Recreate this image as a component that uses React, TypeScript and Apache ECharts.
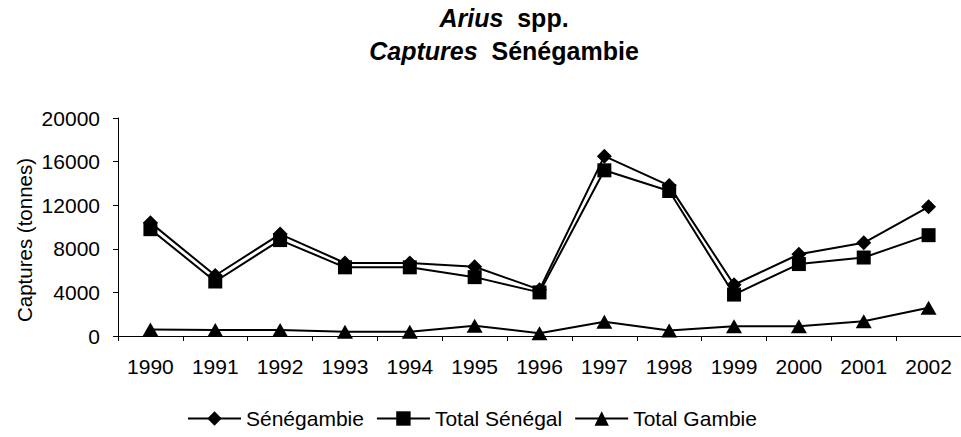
import React, { useEffect, useRef } from "react";
import * as echarts from "echarts";

const years = ["1990", "1991", "1992", "1993", "1994", "1995", "1996", "1997", "1998", "1999", "2000", "2001", "2002"];
const senegambie = [10400, 5550, 9350, 6700, 6700, 6350, 4250, 16500, 13800, 4700, 7500, 8550, 11850];
const totalSenegal = [9800, 5000, 8800, 6300, 6300, 5400, 4000, 15200, 13300, 3800, 6600, 7200, 9250];
const totalGambie = [600, 550, 550, 400, 400, 950, 250, 1300, 500, 900, 900, 1350, 2600];
const seriesNames = ["Sénégambie", "Total Sénégal", "Total Gambie"];
const yMin = 0;
const yMax = 20000;
const yStep = 4000;

export default function App() {
  const ref = useRef<HTMLDivElement>(null);
  useEffect(() => {
    const chart = echarts.init(ref.current as HTMLDivElement, null, { renderer: "svg" });
    const font = '"Liberation Sans", Arial, sans-serif';
    const black = "#000";
    const mk = (name: string, data: number[], symbol: string, size: any) => ({
      name,
      type: "line",
      data,
      symbol,
      symbolSize: size,
      color: black,
      lineStyle: { color: black, width: 2 },
      itemStyle: { color: black },
    });
    const rich = {
      bi: { fontSize: 25, fontWeight: "bold", fontStyle: "italic", fontFamily: font, fill: black },
      b: { fontSize: 25, fontWeight: "bold", fontFamily: font, fill: black },
    };
    chart.setOption({
      animation: false,
      backgroundColor: "#fff",
      textStyle: { fontFamily: font, color: black },
      grid: { left: 118, right: 0, top: 118, bottom: 101 },
      xAxis: {
        type: "category",
        data: years,
        boundaryGap: true,
        axisLine: { lineStyle: { color: black, width: 1 } },
        axisTick: { show: true, length: 5, lineStyle: { color: black } },
        axisLabel: { color: black, fontSize: 21, margin: 20, interval: 0, fontFamily: font },
      },
      yAxis: {
        type: "value",
        min: yMin,
        max: yMax,
        interval: yStep,
        axisLine: { show: true, lineStyle: { color: black, width: 1 } },
        axisTick: { show: true, length: 5, lineStyle: { color: black } },
        axisLabel: {
          color: black,
          fontSize: 21,
          margin: 18,
          fontFamily: font,
          formatter: (v: number) => String(v),
        },
        splitLine: { show: false },
      },
      legend: {
        data: seriesNames,
        left: 187,
        top: 408,
        padding: 0,
        itemWidth: 53,
        itemHeight: 18,
        itemGap: 12,
        textStyle: { fontSize: 21, color: black, fontFamily: font },
      },
      graphic: [
        {
          type: "text",
          x: 504,
          y: 18,
          style: {
            text: "{bi|Arius}{b|  spp.}",
            align: "center",
            verticalAlign: "middle",
            rich,
          },
        },
        {
          type: "text",
          x: 504,
          y: 51,
          style: {
            text: "{bi|Captures}{b|  Sénégambie}",
            align: "center",
            verticalAlign: "middle",
            rich,
          },
        },
        {
          type: "text",
          x: 24,
          y: 240,
          rotation: Math.PI / 2,
          style: {
            text: "Captures (tonnes)",
            align: "center",
            verticalAlign: "middle",
            fontSize: 20.5,
            fontFamily: font,
            fill: black,
          },
        },
      ],
      series: [
        mk(seriesNames[0], senegambie, "diamond", 15),
        mk(seriesNames[1], totalSenegal, "rect", 14),
        mk(seriesNames[2], totalGambie, "triangle", [16, 14]),
      ],
    });
    return () => chart.dispose();
  }, []);
  return <div ref={ref} style={{ position: "fixed", left: 0, top: 0, width: 961, height: 437 }} />;
}
